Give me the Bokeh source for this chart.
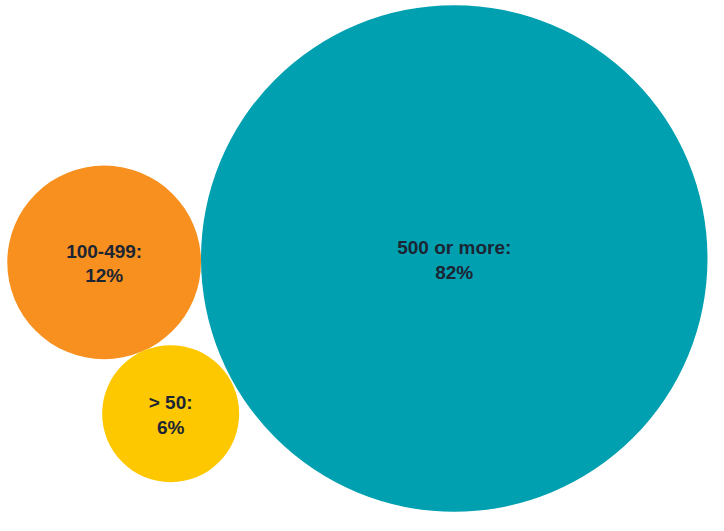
import math
from bokeh.plotting import figure
from bokeh.models import Range1d, ColumnDataSource
from bokeh.core.properties import value
from bokeh.embed import file_html
from bokeh.resources import INLINE

# Data
categories = ["500 or more", "100-499", "> 50"]
percents = [82, 12, 6]
colors = ["#00A0B0", "#F7901E", "#FDC800"]

# Layout (reference-image pixel coordinates)
center_x = [464, 106, 174]
center_y = [266, 270, 426]
SCALE = 28.6  # px per sqrt(percent)

W, H = 708, 515
p = figure(width=W, height=H, output_backend="svg", toolbar_location=None,
           x_range=Range1d(0, 724), y_range=Range1d(531, 0),
           min_border=0, outline_line_color=None, background_fill_color="white")
p.axis.visible = False
p.grid.visible = False

radii = [SCALE * math.sqrt(v) for v in percents]
line1 = [c + ":" for c in categories]
line2 = [f"{v}%" for v in percents]

src = ColumnDataSource(dict(x=center_x, y=center_y, r=radii, color=colors,
                            l1=line1, l2=line2,
                            y1=[y - 11 for y in center_y],
                            y2=[y + 14 for y in center_y]))

p.circle(x="x", y="y", radius="r", radius_dimension="x", source=src,
         fill_color="color", line_color=None)

for col_y, col_t in (("y1", "l1"), ("y2", "l2")):
    p.text(x="x", y=col_y, text=col_t, source=src,
           text_font=value("Liberation Sans"), text_font_style="bold",
           text_font_size="19px", text_color="#1c2533",
           text_align="center", text_baseline="middle")

open("out.html", "w").write(file_html(p, INLINE))
